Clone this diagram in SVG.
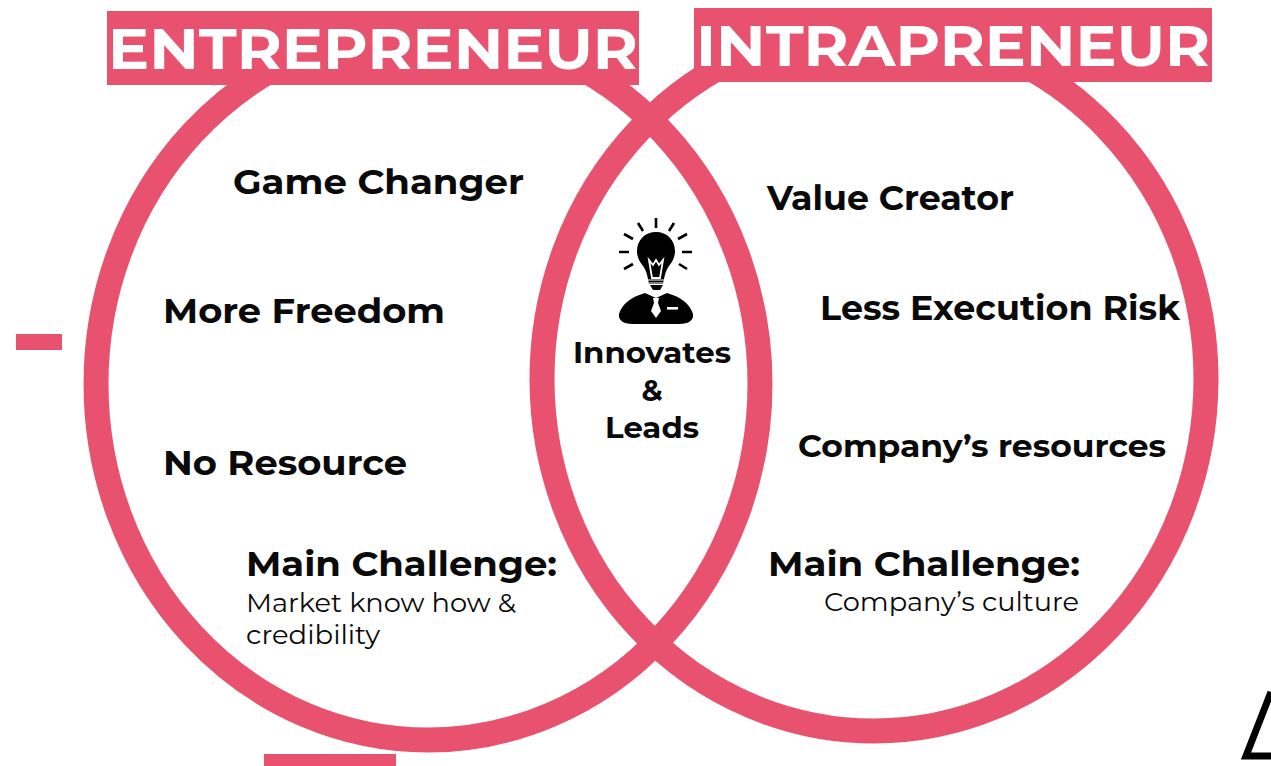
<svg xmlns="http://www.w3.org/2000/svg" width="1271" height="766" viewBox="0 0 1271 766">
<style>
text{font-family:Montserrat,"Open Sans","Noto Sans",sans-serif;font-weight:700;fill:#0a0a0a}
.h{font-size:57px;fill:#fff;font-weight:700}
.t{font-size:34px}
.r{font-size:31px}
.m{font-size:35px}
.s{font-size:26px;font-weight:400}
.c{font-size:29px;text-anchor:middle}
.ring{fill:none;stroke:#e8526f;stroke-width:25}
.pk{fill:#e8526f}
.ray{stroke:#000;stroke-width:2.6;fill:none}
</style>
<rect width="1271" height="766" fill="#fff"/>
<g id="connectors"></g>
<g id="circle-entrepreneur"><ellipse class="ring" cx="428" cy="384" rx="332" ry="356"/></g>
<g id="circle-intrapreneur"><ellipse class="ring" cx="874" cy="379" rx="332" ry="352"/></g>
<g id="title-entrepreneur"><rect class="pk" x="107" y="11" width="532" height="74"/><text class="h" x="108" y="69" textLength="530" lengthAdjust="spacingAndGlyphs">ENTREPRENEUR</text></g>
<g id="title-intrapreneur"><rect class="pk" x="694" y="8" width="518" height="74"/><text class="h" x="696" y="66" textLength="514" lengthAdjust="spacingAndGlyphs">INTRAPRENEUR</text></g>
<g id="left-items">
<text class="t" x="233" y="194" textLength="291" lengthAdjust="spacingAndGlyphs">Game Changer</text>
<text class="t" x="163" y="323" textLength="282" lengthAdjust="spacingAndGlyphs">More Freedom</text>
<text class="t" x="163" y="475" textLength="244" lengthAdjust="spacingAndGlyphs">No Resource</text>
<text class="m" x="246" y="576" textLength="311" lengthAdjust="spacingAndGlyphs">Main Challenge:</text>
<text class="s" x="246" y="612" textLength="270" lengthAdjust="spacingAndGlyphs">Market know how &amp;</text>
<text class="s" x="246" y="644" textLength="134" lengthAdjust="spacingAndGlyphs">credibility</text>
</g>
<g id="right-items">
<text class="t" x="767" y="210" textLength="247" lengthAdjust="spacingAndGlyphs">Value Creator</text>
<text class="t" x="820" y="320" textLength="360" lengthAdjust="spacingAndGlyphs">Less Execution Risk</text>
<text class="r" x="798" y="457" textLength="368" lengthAdjust="spacingAndGlyphs">Company’s resources</text>
<text class="m" x="768" y="576" textLength="312" lengthAdjust="spacingAndGlyphs">Main Challenge:</text>
<text class="s" x="824" y="611" textLength="255" lengthAdjust="spacingAndGlyphs">Company’s culture</text>
</g>
<g id="center">
<text class="c" x="652" y="363" textLength="158" lengthAdjust="spacingAndGlyphs">Innovates</text>
<text class="c" x="652" y="401">&amp;</text>
<text class="c" x="652" y="438" textLength="94" lengthAdjust="spacingAndGlyphs">Leads</text>
</g>
<g id="icon-bulb-person">
<path d="M656 232c-11 0-19 8-19 19 0 7 3 11 6 15 3 4 4 8 5 13l1 5h14l1-5c1-5 2-9 5-13 3-4 6-8 6-15 0-11-8-19-19-19z" fill="#000"/>
<path d="M649 260l3 18h8l3-18-4 5-3-5-3 5z" fill="none" stroke="#fff" stroke-width="1.8"/>
<path d="M648 280h17M649 283h15" stroke="#fff" stroke-width="1"/>
<path d="M650 285h13l-3 5h-7z" fill="#000"/>
<path d="M619 314c3-10 12-17 26-21l11 5 11-5c14 4 23 11 26 21 1 6-4 10-14 10h-46c-10 0-15-4-14-10z" fill="#000"/>
<path d="M653 298h6l-1 5 3 8-5 7-5-7 3-8z" fill="#fff"/>
<rect x="667" y="307" width="11" height="2.6" fill="#fff"/>
<path class="ray" d="M656 218v10M638 223l5 8M674 223l-5 8M624 234l9 5M687 234l-9 5M619 252h10M692 252h-10M624 269l9-5M687 269l-8-5"/>
</g>
<g id="decor">
<rect class="pk" x="16" y="334" width="46" height="16"/>
<rect class="pk" x="264" y="754" width="132" height="12"/>
<path d="M1271 692L1246 756H1271" fill="none" stroke="#000" stroke-width="7"/>
</g>
</svg>
